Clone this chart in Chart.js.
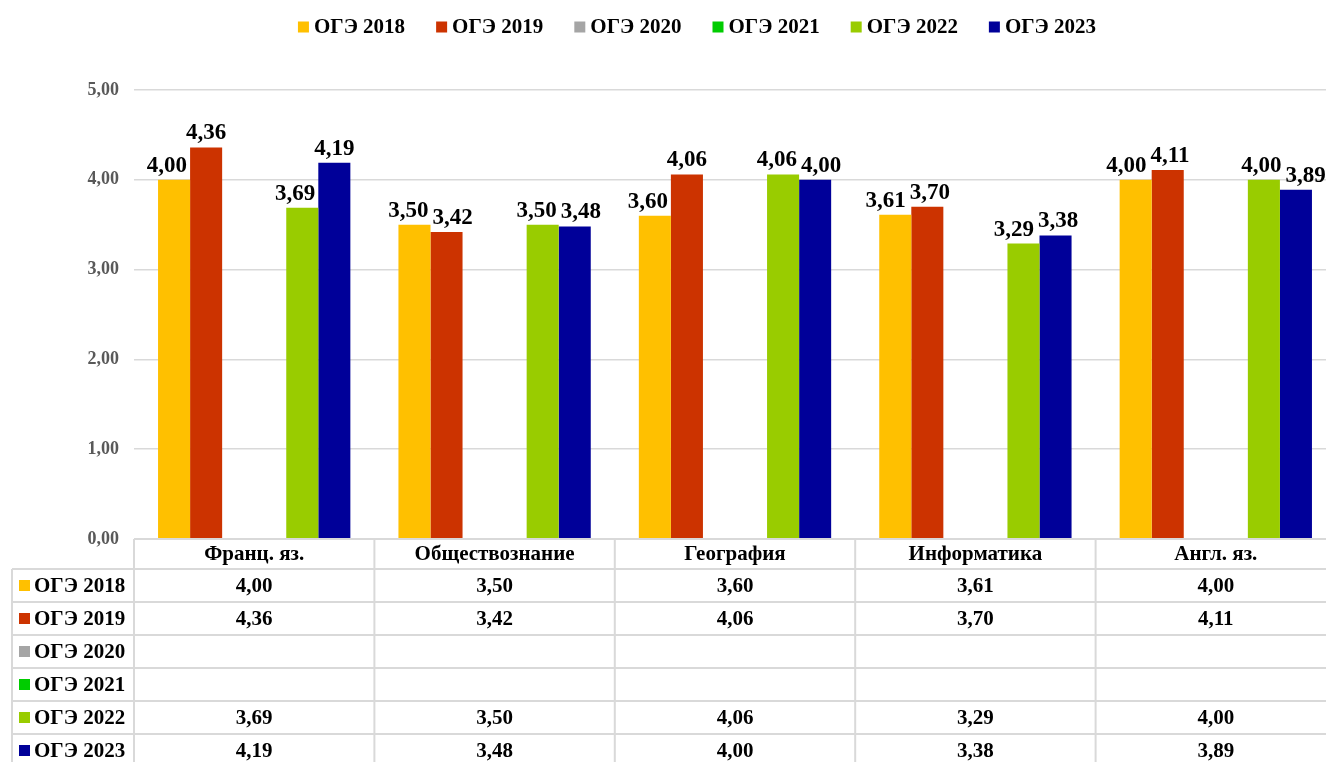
<!DOCTYPE html>
<html>
<head>
<meta charset="utf-8">
<script src="https://cdn.jsdelivr.net/npm/chart.js@4"></script>
<style>
html, body { margin: 0; padding: 0; background: #fff; overflow: hidden; }
canvas { display: block; }
</style>
</head>
<body>
<canvas id="chart" width="1340" height="762"></canvas>
<script>
const categories = ["Франц. яз.", "Обществознание", "География", "Информатика", "Англ. яз."];
const seriesNames = ["ОГЭ 2018", "ОГЭ 2019", "ОГЭ 2020", "ОГЭ 2021", "ОГЭ 2022", "ОГЭ 2023"];

const oge2018 = [4.00, 3.50, 3.60, 3.61, 4.00];
const oge2019 = [4.36, 3.42, 4.06, 3.70, 4.11];
const oge2020 = [null, null, null, null, null];
const oge2021 = [null, null, null, null, null];
const oge2022 = [3.69, 3.50, 4.06, 3.29, 4.00];
const oge2023 = [4.19, 3.48, 4.00, 3.38, 3.89];

const yMin = 0;
const yMax = 5;
const yStep = 1;

const seriesValues = [oge2018, oge2019, oge2020, oge2021, oge2022, oge2023];
const seriesColors = ["#FFC000", "#CC3300", "#A5A5A5", "#00CC00", "#99CC00", "#000099"];

const FONT = '"Liberation Serif", "Times New Roman", serif';
const gridColor = "#d9d9d9";

function fmt(v) {
    return v.toFixed(2).replace(".", ",");
}

// legend drawn by hand so the box/text spacing matches
const topLegend = {
    id: "topLegend",
    afterDraw(chart) {
        const ctx = chart.ctx;
        ctx.save();
        ctx.font = "bold 21px " + FONT;
        ctx.textBaseline = "middle";
        ctx.textAlign = "left";
        const box = 11, gapText = 5, spacing = 31, cy = 27;
        const widths = seriesNames.map(n => ctx.measureText(n).width);
        let total = widths.reduce((s, w) => s + box + gapText + w, 0) + spacing * (seriesNames.length - 1);
        let x = 697 - total / 2;
        seriesNames.forEach((n, i) => {
            ctx.fillStyle = seriesColors[i];
            ctx.fillRect(x, cy - box / 2, box, box);
            ctx.fillStyle = "#000";
            ctx.fillText(n, x + box + gapText, cy + 1);
            x += box + gapText + widths[i] + spacing;
        });
        ctx.restore();
    }
};

// value labels over the bars, nudged off neighbours
const barLabels = {
    id: "barLabels",
    afterDatasetsDraw(chart) {
        const ctx = chart.ctx;
        ctx.save();
        ctx.font = "bold 23px " + FONT;
        ctx.fillStyle = "#000";
        ctx.textAlign = "center";
        ctx.textBaseline = "alphabetic";
        const h = 16, gap = 8;
        categories.forEach((c, j) => {
            const items = [];
            chart.data.datasets.forEach((ds, i) => {
                const v = ds.data[j];
                if (v == null) return;
                const bar = chart.getDatasetMeta(i).data[j];
                const text = fmt(v);
                items.push({ text, bar, x: bar.x, bottom: bar.y - gap, w: ctx.measureText(text).width });
            });
            const adjacent = (a, b) => a && b && Math.abs(a.bar.x - b.bar.x) <= a.bar.width + 1;
            items.forEach((it, k) => {
                const next = items[k + 1], prev = items[k - 1];
                if (adjacent(it, next) && next.bar.y < it.bottom && it.x + it.w / 2 > next.bar.x - next.bar.width / 2) {
                    it.x = next.bar.x - next.bar.width / 2 - 3 - it.w / 2;
                }
                if (adjacent(it, prev) && prev.bar.y < it.bottom && it.x - it.w / 2 < prev.bar.x + prev.bar.width / 2) {
                    it.x = prev.bar.x + prev.bar.width / 2 + 3 + it.w / 2;
                }
            });
            for (let k = 0; k < items.length - 1; k++) {
                const a = items[k], b = items[k + 1];
                if (!adjacent(a, b) || Math.abs(a.bottom - b.bottom) >= h + 2) continue;
                const overlap = (a.x + a.w / 2) - (b.x - b.w / 2) + 4;
                if (overlap > 0) {
                    a.x -= overlap / 2;
                    b.x += overlap / 2;
                }
            }
            items.forEach(it => ctx.fillText(it.text, it.x, it.bottom));
        });
        ctx.restore();
    }
};

// data table under the plot
const dataTable = {
    id: "dataTable",
    afterDraw(chart) {
        const ctx = chart.ctx;
        const area = chart.chartArea;
        const xScale = chart.scales.x;
        const catW = (area.right - area.left) / categories.length;
        const y0 = area.bottom;
        const headH = 30, rowH = 33, firstX = 12;
        const bottom = y0 + headH + rowH * seriesNames.length;

        ctx.save();
        ctx.strokeStyle = gridColor;
        ctx.lineWidth = 2;
        ctx.beginPath();
        ctx.moveTo(area.left, y0);
        ctx.lineTo(area.right, y0);
        for (let r = 0; r <= seriesNames.length; r++) {
            const y = y0 + headH + r * rowH;
            ctx.moveTo(firstX, y);
            ctx.lineTo(area.right, y);
        }
        ctx.moveTo(firstX, y0 + headH);
        ctx.lineTo(firstX, bottom);
        for (let c = 0; c <= categories.length; c++) {
            const x = area.left + c * catW;
            ctx.moveTo(x, y0);
            ctx.lineTo(x, bottom);
        }
        ctx.stroke();

        ctx.fillStyle = "#000";
        ctx.font = "bold 21px " + FONT;
        ctx.textBaseline = "middle";
        ctx.textAlign = "center";
        categories.forEach((c, j) => {
            ctx.fillText(c, xScale.getPixelForValue(j), y0 + headH / 2 + 1);
        });

        seriesNames.forEach((n, i) => {
            const cy = y0 + headH + i * rowH + rowH / 2;
            ctx.fillStyle = seriesColors[i];
            ctx.fillRect(19, cy - 5.5, 11, 11);
            ctx.fillStyle = "#000";
            ctx.textAlign = "left";
            ctx.fillText(n, 34, cy + 1);
            ctx.textAlign = "center";
            seriesValues[i].forEach((v, j) => {
                if (v == null) return;
                ctx.fillText(fmt(v), xScale.getPixelForValue(j), cy + 1);
            });
        });
        ctx.restore();
    }
};

const datasets = seriesNames.map((name, i) => ({
    label: name,
    data: seriesValues[i],
    backgroundColor: seriesColors[i],
    borderWidth: 0,
    categoryPercentage: 0.8,
    barPercentage: 1
}));

new Chart(document.getElementById("chart").getContext("2d"), {
    type: "bar",
    data: { labels: categories, datasets: datasets },
    plugins: [topLegend, barLabels, dataTable],
    options: {
        responsive: false,
        animation: false,
        layout: { padding: { left: 0, right: 4, top: 90, bottom: 223 } },
        plugins: {
            legend: { display: false },
            tooltip: { enabled: false }
        },
        scales: {
            x: { display: false },
            y: {
                min: yMin,
                max: yMax,
                afterFit(scale) { scale.width = 134; },
                border: { display: false },
                grid: { color: gridColor, lineWidth: 1.5, drawTicks: false },
                ticks: {
                    stepSize: yStep,
                    padding: 15,
                    color: "#595959",
                    font: { family: FONT, size: 18, weight: "bold" },
                    callback: v => fmt(v)
                }
            }
        }
    }
});
</script>
</body>
</html>
